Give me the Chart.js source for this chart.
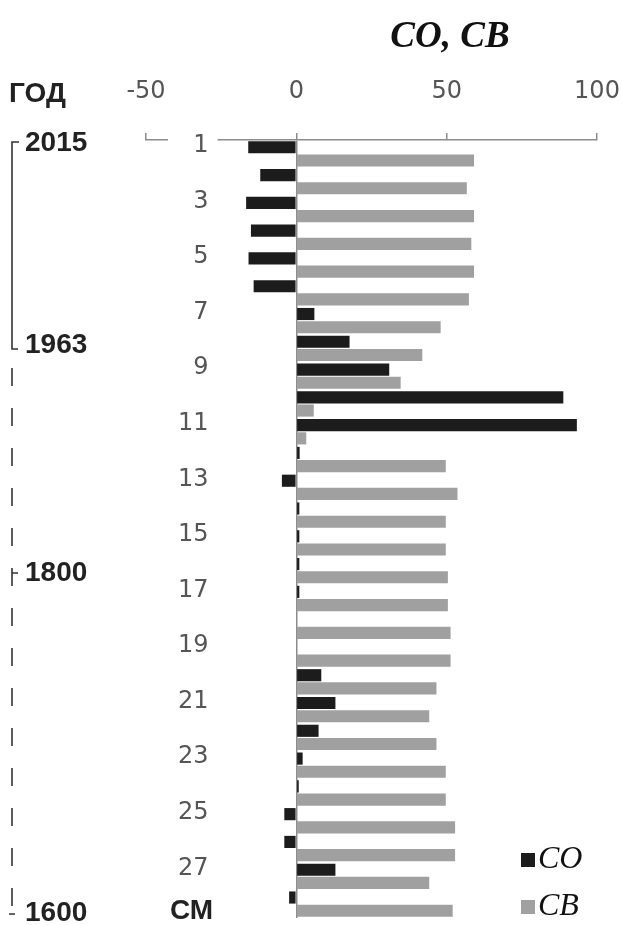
<!DOCTYPE html>
<html>
<head>
<meta charset="utf-8">
<script src="https://cdn.jsdelivr.net/npm/chart.js@4.4.1/dist/chart.umd.min.js"></script>
<style>
  body { margin: 0; background: #fff; }
  #wrap { width: 622px; height: 925px; }
</style>
</head>
<body>
<div id="wrap"><canvas id="depthChart"></canvas></div>
<script>
// depth, cm
const categories = ['1', '2', '3', '4', '5', '6', '7', '8', '9', '10', '11', '12', '13', '14',
  '15', '16', '17', '18', '19', '20', '21', '22', '23', '24', '25', '26', '27', '28'];
const coValues = [-16, -12, -16.7, -15.1, -15.9, -14.2, 6, 17.7, 30.9, 88.8, 93.3, 1.1, -4.8, 1,
  1, 1, 1, 0, 0, 8.3, 13, 7.4, 2.1, 0.8, -4, -4, 13, -2.4];
const cbValues = [59.1, 56.7, 59.1, 58.2, 59.1, 57.4, 48, 41.9, 34.7, 5.8, 3.3, 49.7, 53.6, 49.7,
  49.7, 50.4, 50.4, 51.3, 51.3, 46.6, 44.2, 46.6, 49.7, 49.7, 52.8, 52.8, 44.2, 52];
const seriesNames = ['CO', 'CB'];
const xTicks = [-50, 0, 50, 100];
const years = ['2015', '1963', '1800', '1600'];

const axisGray = '#8c8c8c';
const labelFont = { family: 'DejaVu Sans', size: 24 };

// extra texts: title, year scale on the left, legend
const annotations = {
  id: 'annotations',
  beforeDraw(chart) {
    const ctx = chart.ctx;
    ctx.save();
    ctx.fillStyle = '#fff';
    ctx.fillRect(0, 0, chart.width, chart.height);
    ctx.restore();
  },
  afterDraw(chart) {
    const ctx = chart.ctx;
    ctx.save();
    ctx.textBaseline = 'middle';

    // title
    ctx.fillStyle = '#111';
    ctx.font = 'italic bold 37px "Liberation Serif"';
    ctx.textAlign = 'center';
    ctx.fillText('CO, CB', 450, 37);

    // header / footer labels
    ctx.font = 'bold 28px "Liberation Sans"';
    ctx.textAlign = 'left';
    ctx.fillStyle = '#222';
    ctx.fillText('ГОД', 9, 94);
    ctx.fillText('СМ', 170, 911);

    // years
    const yearY = [143, 345, 573, 913];
    years.forEach((y, i) => ctx.fillText(y, 25, yearY[i]));

    // bracket 2015-1963
    ctx.strokeStyle = '#333';
    ctx.lineWidth = 1.6;
    ctx.beginPath();
    ctx.moveTo(19, 142); ctx.lineTo(12, 142); ctx.lineTo(12, 349); ctx.lineTo(18, 349);
    ctx.stroke();

    // dashed part 1963-1600
    ctx.setLineDash([18, 22]);
    ctx.beginPath();
    ctx.moveTo(12, 368); ctx.lineTo(12, 907);
    ctx.stroke();
    ctx.setLineDash([]);
    ctx.beginPath();
    ctx.moveTo(12, 573); ctx.lineTo(18, 573);
    ctx.moveTo(9, 914); ctx.lineTo(15, 914);
    ctx.stroke();

    // legend
    const legendY = [860, 907];
    chart.data.datasets.forEach((ds, i) => {
      ctx.fillStyle = ds.backgroundColor;
      ctx.fillRect(521, legendY[i] - 7, 14, 14);
      ctx.fillStyle = '#111';
      ctx.font = 'italic 32px "Liberation Serif"';
      ctx.fillText(ds.label, 538, legendY[i]);
    });
    ctx.restore();
  }
};

new Chart(document.getElementById('depthChart'), {
  type: 'bar',
  data: {
    labels: categories,
    datasets: [
      { label: seriesNames[0], data: coValues, backgroundColor: '#1c1c1c' },
      { label: seriesNames[1], data: cbValues, backgroundColor: '#a0a0a0' }
    ]
  },
  options: {
    indexAxis: 'y',
    responsive: true,
    maintainAspectRatio: false,
    animation: false,
    categoryPercentage: 0.95,
    barPercentage: 0.92,
    layout: { padding: { left: 146, right: 25, top: 75, bottom: 7 } },
    scales: {
      x: {
        position: 'top',
        min: -50,
        max: 100,
        afterBuildTicks: (scale) => { scale.ticks = xTicks.map(v => ({ value: v })); },
        afterFit: (scale) => { scale.height = 65; scale.paddingLeft = 0; scale.paddingRight = 0; },
        ticks: { font: labelFont, color: '#555', padding: 27 },
        grid: {
          color: (c) => (c.tick && c.tick.value === 0 ? axisGray : 'rgba(0,0,0,0)'),
          tickColor: axisGray,
          lineWidth: 1.5,
          tickLength: 7
        },
        border: { color: axisGray, width: 1.5 }
      },
      y: {
        afterFit: (scale) => { scale.width = 0; scale.paddingTop = 0; scale.paddingBottom = 0; },
        grid: { display: false },
        border: { display: false },
        ticks: {
          autoSkip: false,
          mirror: true,
          font: labelFont,
          color: '#555',
          padding: 32,
          labelOffset: -8,
          // figure space keeps the one-digit labels right-aligned with the two-digit ones
          callback: (v, i) => (i % 2 === 0 ? (i < 9 ? '\u2007' : '') + categories[i] : ''),
          showLabelBackdrop: (c) => c.index === 0,
          backdropColor: '#fff',
          backdropPadding: { left: 10, right: 9, top: 0, bottom: 0 }
        }
      }
    },
    plugins: {
      legend: { display: false },
      tooltip: { enabled: false }
    }
  },
  plugins: [annotations]
});
</script>
</body>
</html>
